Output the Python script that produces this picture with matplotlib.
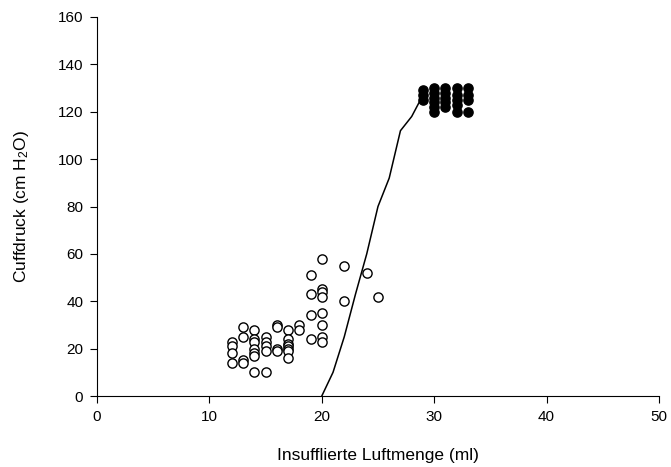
import matplotlib
matplotlib.use("Agg")
import matplotlib.pyplot as plt

plt.rcParams["font.family"] = ["Liberation Sans", "DejaVu Sans"]
plt.rcParams["mathtext.default"] = "regular"

# open circles: individual measurements
open_x = [12, 12, 12, 12,
          13, 13, 13, 13,
          14, 14, 14, 14, 14, 14, 14,
          15, 15, 15, 15, 15,
          16, 16, 16, 16,
          17, 17, 17, 17, 17, 17, 17,
          18, 18,
          19, 19, 19, 19,
          20, 20, 20, 20, 20, 20, 20, 20,
          22, 22, 24, 25]
open_y = [23, 21, 18, 14,
          29, 25, 15, 14,
          28, 24, 23, 20, 18, 17, 10,
          25, 23, 21, 19, 10,
          30, 29, 20, 19,
          28, 24, 22, 21, 20, 19, 16,
          30, 28,
          51, 43, 34, 24,
          58, 45, 44, 42, 35, 30, 25, 23,
          55, 40, 52, 42]

# filled circles: plateau
filled_x = [29, 29, 29,
            30, 30, 30, 30, 30, 30,
            31, 31, 31, 31, 31,
            32, 32, 32, 32, 32,
            33, 33, 33, 33]
filled_y = [125, 127, 129,
            120, 122, 124, 126, 128, 130,
            122, 124, 126, 128, 130,
            120, 123, 125, 127, 130,
            120, 125, 127, 130]

# curve
curve_x = [20, 21, 22, 23, 24, 25, 26, 27, 28, 29]
curve_y = [0, 10, 25, 43, 60, 80, 92, 112, 118, 127]

fig = plt.figure(figsize=(6.71, 4.67), dpi=100)
ax = fig.add_axes([0.1446, 0.152, 0.8374, 0.8116])

ax.plot(curve_x, curve_y, color="black", lw=1.1, zorder=2)
ax.scatter(open_x, open_y, s=44, facecolors="white", edgecolors="black", linewidths=1.0, zorder=3)
ax.scatter(filled_x, filled_y, s=44, facecolors="black", edgecolors="black", linewidths=1.0, zorder=3)

ax.set_xlim(0, 50)
ax.set_ylim(0, 160)
ax.set_xticks(range(0, 51, 10))
ax.set_yticks(range(0, 161, 20))
ax.spines["top"].set_visible(False)
ax.spines["right"].set_visible(False)
ax.tick_params(direction="out", length=5, pad=5, labelsize=11)
ax.set_xlabel("Insufflierte Luftmenge (ml)", fontsize=12.5, labelpad=17)
ax.set_ylabel("Cuffdruck (cm H$_2$O)", fontsize=12.5, labelpad=19)

fig.savefig("out.png", dpi=100)
